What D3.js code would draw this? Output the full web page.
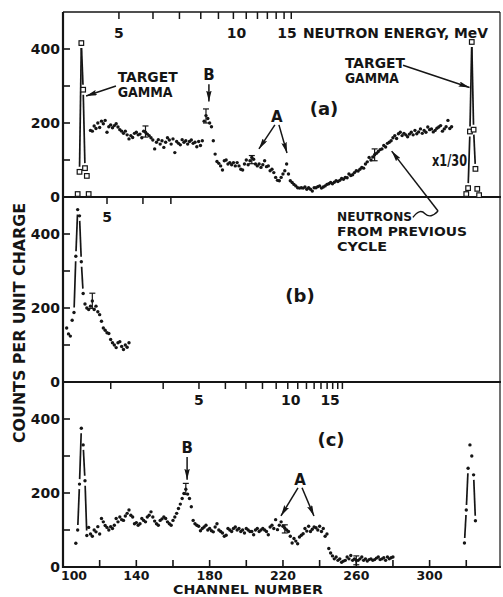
<!DOCTYPE html>
<html>
<head>
<meta charset="utf-8">
<script src="https://cdnjs.cloudflare.com/ajax/libs/d3/7.8.5/d3.min.js"></script>
<style>
body { margin: 0; background: #fff; }
svg text { font-family: "DejaVu Sans", sans-serif; font-weight: bold; fill: #151515; }
</style>
</head>
<body>
<div id="chart"></div>
<script>
// ---- panel (a): counts per channel, first channel 115
var startA = 115;
var countsA = [180,178,192,185,200,188,205,198,207,175,190,195,187,193,198,189,182,178,172,178,
  168,157,166,161,172,175,168,170,160,178,175,170,166,160,154,130,148,155,143,152,
  134,148,160,154,143,157,120,150,145,141,155,148,152,143,150,154,145,148,136,150,
  139,152,205,220,212,200,190,152,116,96,91,84,73,98,100,89,93,87,93,84,
  93,84,75,73,89,100,87,98,107,102,89,84,89,80,87,98,82,84,71,75,
  66,53,45,44,53,62,71,89,62,44,39,34,30,25,24,25,24,27,21,25,
  21,16,25,25,28,30,24,27,30,34,36,39,36,40,44,42,45,50,48,53,
  52,62,58,60,66,71,70,75,80,78,89,95,107,100,108,114,118,123,128,130,
  139,135,145,148,152,160,166,158,171,175,166,172,168,163,170,175,168,180,171,176,
  184,172,180,175,189,182,184,176,180,186,189,193,178,184,190,207,185,190];
// target gamma (open squares), scaled x1/30
var gammaStartA1 = 108;
var gammaA1 = [8, 68, 416, 290, 78, 57, 8];
var gammaStartA2 = 320;
var gammaA2 = [8, 24, 177, 419, 182, 76, 22, 5];
var errChA = [145, 178, 203, 270];
var errLoA = [162, 200, 90, 98];
var errHiA = [192, 238, 112, 130];

// ---- panel (b)
var startB = 102;
var countsB = [146,130,124,167,188,340,466,449,325,239,211,200,196,205,219,196,205,190,182,164,
  146,140,133,131,115,106,100,93,106,109,96,88,100,94,106];
var errChB = [116];
var errLoB = [199];
var errHiB = [240];

// ---- panel (c)
var startC = 107;
var countsC = [64,100,224,375,330,233,85,107,89,83,100,95,109,89,131,122,112,107,100,109,
  104,113,131,122,135,128,126,138,145,154,140,135,117,120,113,117,131,126,122,135,
  140,149,135,124,117,113,126,130,135,131,122,117,113,126,135,145,158,170,185,199,
  210,197,185,163,126,117,113,110,98,104,108,113,100,104,98,95,108,117,100,96,
  92,83,86,104,100,96,104,108,100,104,96,100,92,104,100,96,96,87,100,104,
  96,100,104,100,96,87,108,113,104,128,101,113,122,110,105,100,96,83,65,77,
  70,63,81,86,90,104,97,110,96,102,108,106,100,110,96,104,83,89,50,38,
  30,22,27,18,22,13,16,18,27,22,31,18,22,18,18,22,27,18,22,16,
  20,22,18,20,24,27,20,22,25,18,27,22,25,27];
var startC2 = 319;
var countsC2 = [65, 154, 267, 330, 300, 249, 125];
var errChC = [167, 221, 260];
var errLoC = [196, 92, 6];
var errHiC = [226, 114, 30];

// ---- neutron energy scales (time of flight: channel = c0 - k / sqrt(E))
var energyTicksA = [5,6,7,8,9,10,11,12,13,14,15,16];
var energyLabelsA = [5, 10, 15];
var tofA = [343.7, 476.7];
var energyTicksB = [5, 6, 7];
var energyLabelsB = [5];
var tofB = [349.0, 503.1];
var energyTicksC = [3,4,5,6,7,8,9,10,11,12,13,14,15,16,17,18];
var energyLabelsC = [5, 10, 15];
var tofC = [339.6, 369.9];

var channelTicks = [120,140,160,180,200,220,240,260,280,300,320];
var channelLabels = [100, 140, 180, 220, 260, 300];
var countTicks = [100, 200, 300, 400];
var countLabels = [0, 200, 400];

function main() {
    var w = 503, h = 597;
    var panelH = 185;
    var base = [197, 382, 567];

    var svg = d3.select("#chart").append("svg")
        .attr("width", w).attr("height", h);

    var defs = svg.append("defs");
    defs.append("marker")
        .attr("id", "arrow")
        .attr("viewBox", "0 0 12 6")
        .attr("refX", 12).attr("refY", 3)
        .attr("markerUnits", "userSpaceOnUse")
        .attr("markerWidth", 11).attr("markerHeight", 5.5)
        .attr("orient", "auto")
        .append("path").attr("d", "M0,0L12,3L0,6L2,3Z").attr("fill", "#151515");

    var x = d3.scaleLinear().domain([100, 338.4]).range([63, 500]);
    var ys = base.map(function(b) {
        return d3.scaleLinear().domain([0, 500]).range([b, b - panelH]);
    });

    // frame
    var frame = svg.append("g").attr("stroke", "#151515").attr("fill", "none");
    frame.append("line").attr("x1", 63).attr("x2", 63).attr("y1", 12).attr("y2", 568).attr("stroke-width", 2.2);
    frame.append("line").attr("x1", 500).attr("x2", 500).attr("y1", 12).attr("y2", 567).attr("stroke-width", 1.2);
    frame.append("line").attr("x1", 63).attr("x2", 500).attr("y1", 12).attr("y2", 12).attr("stroke-width", 1.4);
    base.forEach(function(b) {
        frame.append("line").attr("x1", 62).attr("x2", 501).attr("y1", b).attr("y2", b).attr("stroke-width", 2);
    });

    // count axes
    ys.forEach(function(y) {
        var g = svg.append("g");
        g.selectAll("line.tk").data(countTicks).enter().append("line")
            .attr("x1", 63).attr("x2", 70)
            .attr("y1", function(d) { return y(d); }).attr("y2", function(d) { return y(d); })
            .attr("stroke", "#151515").attr("stroke-width", 1.6);
        g.selectAll("text").data(countLabels).enter().append("text")
            .attr("x", 60).attr("y", function(d) { return y(d) + 5; })
            .attr("text-anchor", "end").style("font-size", "14px")
            .text(function(d) { return d; });
    });

    // channel axis
    svg.append("g").selectAll("line").data(channelTicks).enter().append("line")
        .attr("x1", function(d) { return x(d); }).attr("x2", function(d) { return x(d); })
        .attr("y1", base[2]).attr("y2", base[2] - 7)
        .attr("stroke", "#151515").attr("stroke-width", 1.6);
    svg.append("g").selectAll("text").data(channelLabels).enter().append("text")
        .attr("x", function(d) { return d == 100 ? x(d) + 11 : x(d); })
        .attr("y", 580).attr("text-anchor", "middle").style("font-size", "12.5px")
        .text(function(d) { return d; });
    svg.append("text").attr("x", 173).attr("y", 594.2)
        .attr("textLength", 150).attr("lengthAdjust", "spacingAndGlyphs")
        .style("font-size", "11.5px").text("CHANNEL NUMBER");

    svg.append("text")
        .attr("transform", "translate(25,323) rotate(-90)")
        .attr("text-anchor", "middle")
        .attr("textLength", 240).attr("lengthAdjust", "spacingAndGlyphs")
        .style("font-size", "15.5px").text("COUNTS PER UNIT CHARGE");

    // energy axes along the top of each panel
    function energyAxis(top, tof, ticks, labels, labelY) {
        var ch = function(e) { return tof[0] - tof[1] / Math.sqrt(e); };
        var g = svg.append("g");
        g.selectAll("line").data(ticks).enter().append("line")
            .attr("x1", function(d) { return x(ch(d)); }).attr("x2", function(d) { return x(ch(d)); })
            .attr("y1", top).attr("y2", top + 7)
            .attr("stroke", "#151515").attr("stroke-width", 1.5);
        g.selectAll("text").data(labels).enter().append("text")
            .attr("x", function(d) { return x(ch(d)) + (d >= 10 ? 3 : 0); })
            .attr("y", labelY).attr("text-anchor", "middle").style("font-size", "14px")
            .text(function(d) { return d; });
    }
    energyAxis(12, tofA, energyTicksA, energyLabelsA, 38);
    energyAxis(base[0], tofB, energyTicksB, energyLabelsB, 222);
    energyAxis(base[1], tofC, energyTicksC, energyLabelsC, 405);
    svg.append("text").attr("x", 303).attr("y", 38)
        .attr("textLength", 185).attr("lengthAdjust", "spacingAndGlyphs")
        .style("font-size", "14px").text("NEUTRON ENERGY, MeV");

    // data marks
    function series(start, vals) {
        return vals.map(function(v, i) { return {ch: start + i, c: v}; });
    }
    function joins(y, pts) {
        var g = svg.append("g").attr("stroke", "#151515").attr("stroke-width", 1.7);
        for (var i = 1; i < pts.length; i++) {
            if (Math.abs(pts[i].c - pts[i - 1].c) < 80) continue;
            var x0 = x(pts[i - 1].ch), y0 = y(pts[i - 1].c);
            var x1 = x(pts[i].ch), y1 = y(pts[i].c);
            var len = Math.hypot(x1 - x0, y1 - y0), gap = 5;
            var ux = (x1 - x0) / len, uy = (y1 - y0) / len;
            g.append("line")
                .attr("x1", x0 + ux * gap).attr("y1", y0 + uy * gap)
                .attr("x2", x1 - ux * gap).attr("y2", y1 - uy * gap);
        }
    }
    function dots(y, pts) {
        joins(y, pts);
        svg.append("g").selectAll("circle").data(pts).enter().append("circle")
            .attr("cx", function(d) { return x(d.ch); })
            .attr("cy", function(d) { return y(d.c); })
            .attr("r", 1.7).attr("fill", "#151515");
    }
    function squares(y, pts) {
        joins(y, pts);
        svg.append("g").selectAll("rect").data(pts).enter().append("rect")
            .attr("x", function(d) { return x(d.ch) - 2.3; })
            .attr("y", function(d) { return y(d.c) - 2.3; })
            .attr("width", 4.6).attr("height", 4.6)
            .attr("fill", "#fff").attr("stroke", "#151515").attr("stroke-width", 1.2);
    }
    function errbars(y, chs, lo, hi) {
        var g = svg.append("g").attr("stroke", "#151515").attr("stroke-width", 1.2);
        chs.forEach(function(c, i) {
            var cx = x(c);
            g.append("line").attr("x1", cx).attr("x2", cx).attr("y1", y(lo[i])).attr("y2", y(hi[i]));
            g.append("line").attr("x1", cx - 3).attr("x2", cx + 3).attr("y1", y(lo[i])).attr("y2", y(lo[i]));
            g.append("line").attr("x1", cx - 3).attr("x2", cx + 3).attr("y1", y(hi[i])).attr("y2", y(hi[i]));
        });
    }

    dots(ys[0], series(startA, countsA));
    errbars(ys[0], errChA, errLoA, errHiA);
    squares(ys[0], series(gammaStartA1, gammaA1));
    squares(ys[0], series(gammaStartA2, gammaA2));

    dots(ys[1], series(startB, countsB));
    errbars(ys[1], errChB, errLoB, errHiB);

    dots(ys[2], series(startC, countsC));
    dots(ys[2], series(startC2, countsC2));
    errbars(ys[2], errChC, errLoC, errHiC);

    // annotations, placed in channel / count units of their panel
    function label(p, ch, c, txt, size, anchor, len) {
        var t = svg.append("text").attr("x", x(ch)).attr("y", ys[p](c))
            .attr("text-anchor", anchor || "start").style("font-size", size + "px").text(txt);
        if (len) t.attr("textLength", len).attr("lengthAdjust", "spacingAndGlyphs");
    }
    function arrow(p, ch0, c0, ch1, c1) {
        svg.append("line")
            .attr("x1", x(ch0)).attr("y1", ys[p](c0))
            .attr("x2", x(ch1)).attr("y2", ys[p](c1))
            .attr("stroke", "#151515").attr("stroke-width", 1.5)
            .attr("marker-end", "url(#arrow)");
    }

    label(0, 129.8, 311, "TARGET", 13.5, "start", 60);
    label(0, 129.8, 270, "GAMMA", 13.5, "start", 55);
    arrow(0, 128.9, 300, 112.6, 273);
    label(0, 179.6, 316, "B", 15, "middle");
    arrow(0, 179.6, 305, 179.6, 258);
    label(0, 216.7, 203, "A", 15, "middle");
    arrow(0, 215.6, 195, 206.9, 130);
    arrow(0, 217.8, 195, 222.2, 119);
    label(0, 242.4, 222, "(a)", 18, "middle");
    label(0, 253.8, 349, "TARGET", 13.5, "start", 60);
    label(0, 253.8, 308, "GAMMA", 13.5, "start", 54);
    arrow(0, 285.5, 356, 321.8, 296);
    label(0, 301.3, 84, "x1/30", 16, "start", 35);
    label(1, 249.5, 436, "NEUTRONS", 12.5, "start", 75);
    label(1, 249.5, 395, "FROM PREVIOUS", 12.5, "start", 130);
    label(1, 249.5, 354, "CYCLE", 12.5, "start", 50);
    svg.append("path")
        .attr("d", "M" + x(290.9) + "," + ys[0](-55) +
            " Q" + x(294.5) + "," + ys[0](-30) + " " + x(297.5) + "," + ys[0](-45) +
            " T" + x(304.6) + "," + ys[0](-38))
        .attr("fill", "none").attr("stroke", "#151515").attr("stroke-width", 1.4);
    arrow(0, 304.6, -38, 279.3, 124);
    label(1, 229.3, 216, "(b)", 18, "middle");
    label(2, 167.7, 308, "B", 15, "middle");
    arrow(2, 167.7, 297, 167.7, 236);
    label(2, 229.3, 222, "A", 15, "middle");
    arrow(2, 228.2, 214, 218.9, 138);
    arrow(2, 230.4, 214, 236.9, 138);
    label(2, 246.2, 327, "(c)", 18, "middle");
}

main();
</script>
</body>
</html>
